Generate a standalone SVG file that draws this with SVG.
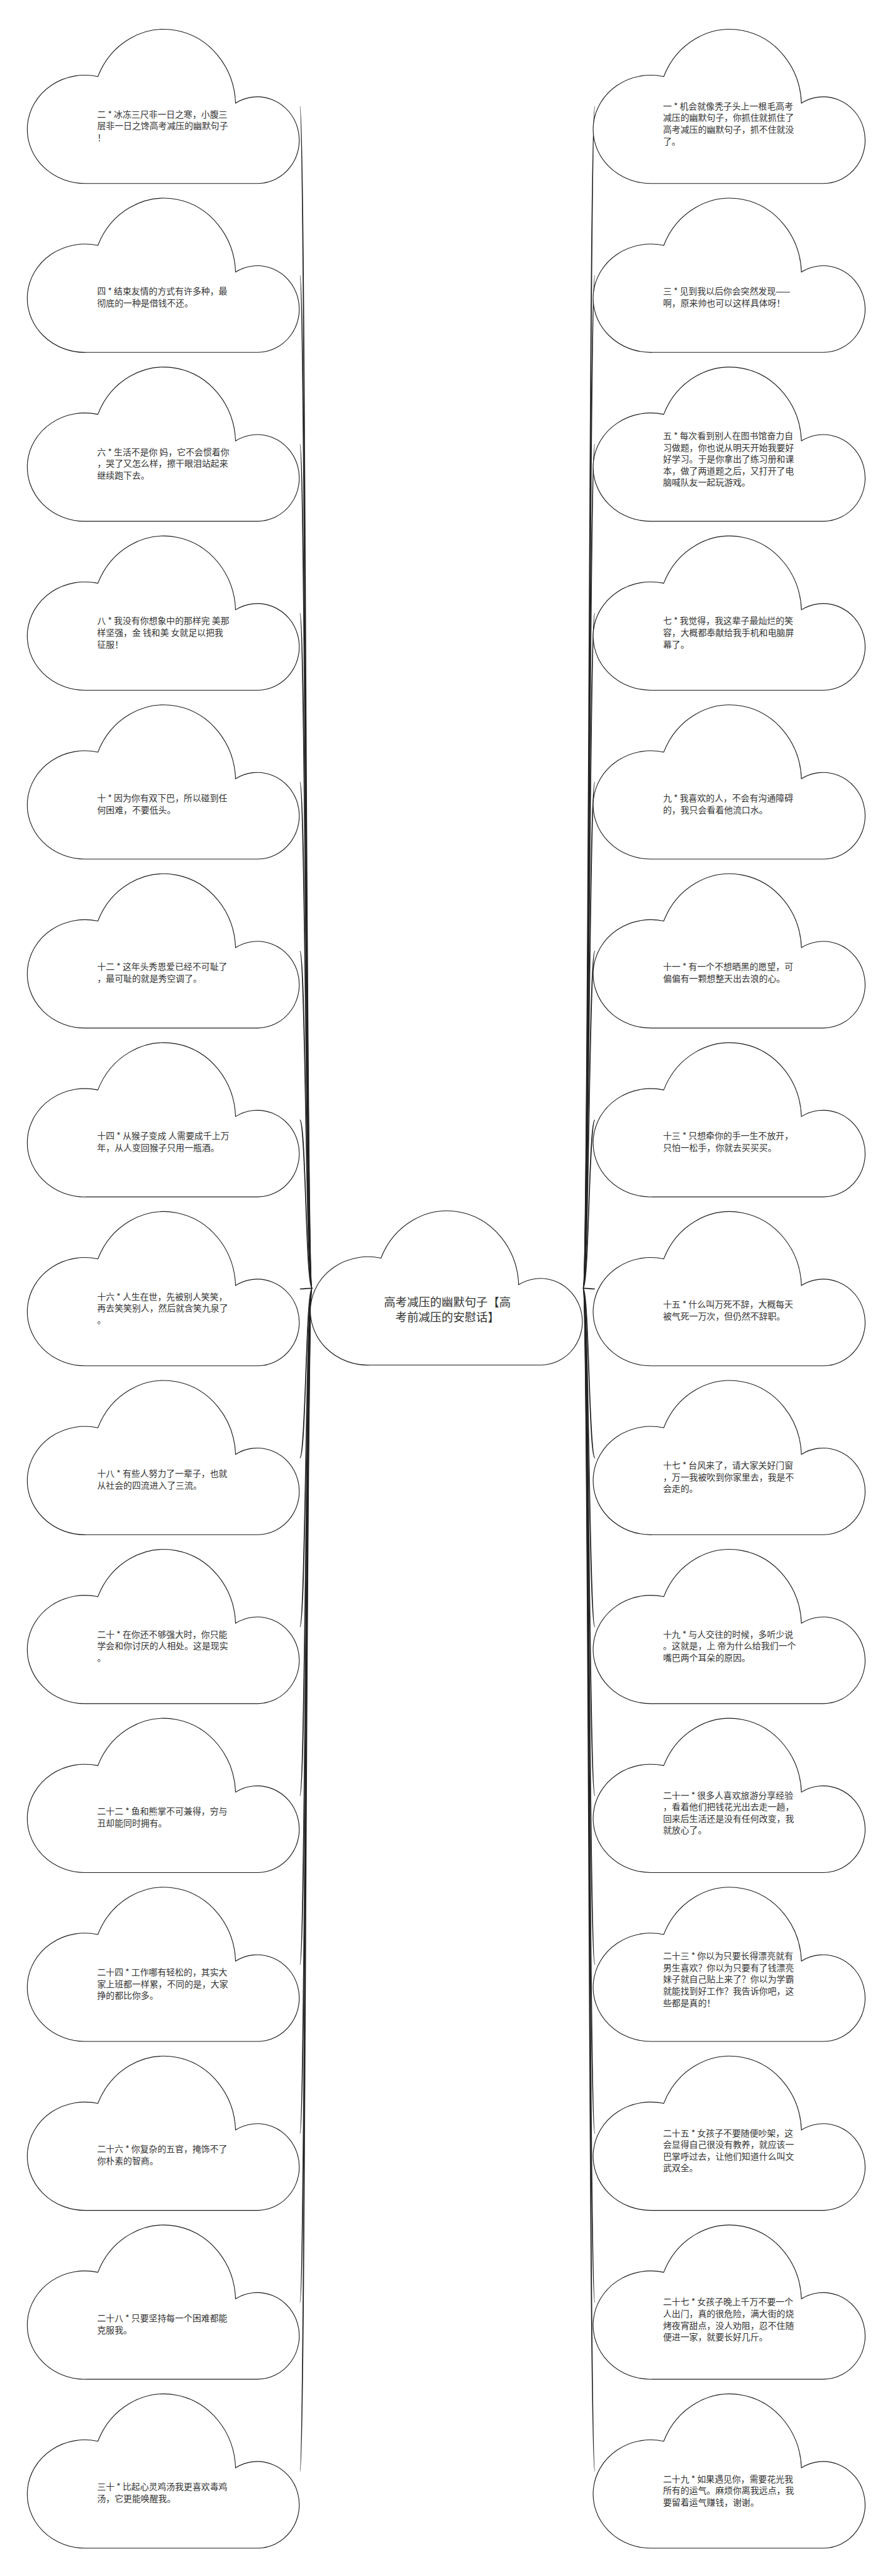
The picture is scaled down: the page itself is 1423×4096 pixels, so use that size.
<svg xmlns="http://www.w3.org/2000/svg" xmlns:xlink="http://www.w3.org/1999/xlink" width="1423" height="4096" viewBox="0 0 1423 4096">
<style>
.cloud{fill:#fff;stroke:#1a1a1a;stroke-width:2}
.t{font-family:"Noto Sans CJK SC","Noto Sans",sans-serif;font-size:25px;fill:#333}
.c{font-family:"Noto Sans CJK SC","Noto Sans",sans-serif;font-size:33px;fill:#333;text-anchor:middle}
.edge{fill:none;stroke:#222;stroke-width:3}
</style>
<defs>
<path id="cloud" class="cloud" d="M 165,440 A 165,155 0 1 1 197,134 A 205,220 0 0 1 591,210 A 120,124 0 1 1 655,440 Z"/>
</defs>
<rect width="1423" height="4096" fill="#fff"/>
<g transform="scale(0.5557)">
<g id="connectors">
<path class="edge" d="M893,3686 C875,3686 875,305 858,305"/>
<path class="edge" d="M893,3686 C875,3686 875,788.3 858,788.3"/>
<path class="edge" d="M893,3686 C875,3686 875,1271.6 858,1271.6"/>
<path class="edge" d="M893,3686 C875,3686 875,1754.9 858,1754.9"/>
<path class="edge" d="M893,3686 C875,3686 875,2238.2 858,2238.2"/>
<path class="edge" d="M893,3686 C875,3686 875,2721.5 858,2721.5"/>
<path class="edge" d="M893,3686 C875,3686 875,3204.8 858,3204.8"/>
<path class="edge" d="M893,3686 C875,3686 875,3688.1 858,3688.1"/>
<path class="edge" d="M893,3686 C875,3686 875,4171.4 858,4171.4"/>
<path class="edge" d="M893,3686 C875,3686 875,4654.7 858,4654.7"/>
<path class="edge" d="M893,3686 C875,3686 875,5138 858,5138"/>
<path class="edge" d="M893,3686 C875,3686 875,5621.3 858,5621.3"/>
<path class="edge" d="M893,3686 C875,3686 875,6104.6 858,6104.6"/>
<path class="edge" d="M893,3686 C875,3686 875,6587.9 858,6587.9"/>
<path class="edge" d="M893,3686 C875,3686 875,7071.2 858,7071.2"/>
<path class="edge" d="M1668,3686 C1685,3686 1685,305 1702,305"/>
<path class="edge" d="M1668,3686 C1685,3686 1685,788.3 1702,788.3"/>
<path class="edge" d="M1668,3686 C1685,3686 1685,1271.6 1702,1271.6"/>
<path class="edge" d="M1668,3686 C1685,3686 1685,1754.9 1702,1754.9"/>
<path class="edge" d="M1668,3686 C1685,3686 1685,2238.2 1702,2238.2"/>
<path class="edge" d="M1668,3686 C1685,3686 1685,2721.5 1702,2721.5"/>
<path class="edge" d="M1668,3686 C1685,3686 1685,3204.8 1702,3204.8"/>
<path class="edge" d="M1668,3686 C1685,3686 1685,3688.1 1702,3688.1"/>
<path class="edge" d="M1668,3686 C1685,3686 1685,4171.4 1702,4171.4"/>
<path class="edge" d="M1668,3686 C1685,3686 1685,4654.7 1702,4654.7"/>
<path class="edge" d="M1668,3686 C1685,3686 1685,5138 1702,5138"/>
<path class="edge" d="M1668,3686 C1685,3686 1685,5621.3 1702,5621.3"/>
<path class="edge" d="M1668,3686 C1685,3686 1685,6104.6 1702,6104.6"/>
<path class="edge" d="M1668,3686 C1685,3686 1685,6587.9 1702,6587.9"/>
<path class="edge" d="M1668,3686 C1685,3686 1685,7071.2 1702,7071.2"/>
</g>
<g id="center" transform="translate(893,3466)"><use xlink:href="#cloud"/><text class="c"><tspan x="387" y="272">高考减压的幽默句子【高</tspan><tspan x="387" y="315">考前减压的安慰话】</tspan></text></g>
<g id="n2" transform="translate(83,85)"><use xlink:href="#cloud"/><text class="t"><tspan x="195" y="251">二 * 冰冻三尺非一日之寒，小腹三</tspan><tspan x="195" y="284.5">层非一日之馋高考减压的幽默句子</tspan><tspan x="195" y="318">！</tspan></text></g>
<g id="n4" transform="translate(83,568.3)"><use xlink:href="#cloud"/><text class="t"><tspan x="195" y="274">四 * 结束友情的方式有许多种，最</tspan><tspan x="195" y="308">彻底的一种是借钱不还。</tspan></text></g>
<g id="n6" transform="translate(83,1051.6)"><use xlink:href="#cloud"/><text class="t"><tspan x="195" y="251">六 * 生活不是你 妈，它不会惯着你</tspan><tspan x="195" y="284.5">，哭了又怎么样，擦干眼泪站起来</tspan><tspan x="195" y="318">继续跑下去。</tspan></text></g>
<g id="n8" transform="translate(83,1534.9)"><use xlink:href="#cloud"/><text class="t"><tspan x="195" y="251">八 * 我没有你想象中的那样完 美那</tspan><tspan x="195" y="284.5">样坚强，金 钱和美 女就足以把我</tspan><tspan x="195" y="318">征服！</tspan></text></g>
<g id="n10" transform="translate(83,2018.2)"><use xlink:href="#cloud"/><text class="t"><tspan x="195" y="274">十 * 因为你有双下巴，所以碰到任</tspan><tspan x="195" y="308">何困难，不要低头。</tspan></text></g>
<g id="n12" transform="translate(83,2501.5)"><use xlink:href="#cloud"/><text class="t"><tspan x="195" y="274">十二 * 这年头秀恩爱已经不可耻了</tspan><tspan x="195" y="308">，最可耻的就是秀空调了。</tspan></text></g>
<g id="n14" transform="translate(83,2984.8)"><use xlink:href="#cloud"/><text class="t"><tspan x="195" y="274">十四 * 从猴子变成 人需要成千上万</tspan><tspan x="195" y="308">年，从人变回猴子只用一瓶酒。</tspan></text></g>
<g id="n16" transform="translate(83,3468.1)"><use xlink:href="#cloud"/><text class="t"><tspan x="195" y="251">十六 * 人生在世，先被别人笑笑，</tspan><tspan x="195" y="284.5">再去笑笑别人，然后就含笑九泉了</tspan><tspan x="195" y="318">。</tspan></text></g>
<g id="n18" transform="translate(83,3951.4)"><use xlink:href="#cloud"/><text class="t"><tspan x="195" y="274">十八 * 有些人努力了一辈子，也就</tspan><tspan x="195" y="308">从社会的四流进入了三流。</tspan></text></g>
<g id="n20" transform="translate(83,4434.7)"><use xlink:href="#cloud"/><text class="t"><tspan x="195" y="251">二十 * 在你还不够强大时，你只能</tspan><tspan x="195" y="284.5">学会和你讨厌的人相处。这是现实</tspan><tspan x="195" y="318">。</tspan></text></g>
<g id="n22" transform="translate(83,4918)"><use xlink:href="#cloud"/><text class="t"><tspan x="195" y="274">二十二 * 鱼和熊掌不可兼得，穷与</tspan><tspan x="195" y="308">丑却能同时拥有。</tspan></text></g>
<g id="n24" transform="translate(83,5401.3)"><use xlink:href="#cloud"/><text class="t"><tspan x="195" y="251">二十四 * 工作哪有轻松的，其实大</tspan><tspan x="195" y="284.5">家上班都一样累，不同的是，大家</tspan><tspan x="195" y="318">挣的都比你多。</tspan></text></g>
<g id="n26" transform="translate(83,5884.6)"><use xlink:href="#cloud"/><text class="t"><tspan x="195" y="274">二十六 * 你复杂的五官，掩饰不了</tspan><tspan x="195" y="308">你朴素的智商。</tspan></text></g>
<g id="n28" transform="translate(83,6367.9)"><use xlink:href="#cloud"/><text class="t"><tspan x="195" y="274">二十八 * 只要坚持每一个困难都能</tspan><tspan x="195" y="308">克服我。</tspan></text></g>
<g id="n30" transform="translate(83,6851.2)"><use xlink:href="#cloud"/><text class="t"><tspan x="195" y="274">三十 * 比起心灵鸡汤我更喜欢毒鸡</tspan><tspan x="195" y="308">汤，它更能唤醒我。</tspan></text></g>
<g id="n1" transform="translate(1702,85)"><use xlink:href="#cloud"/><text class="t"><tspan x="195" y="228">一 * 机会就像秃子头上一根毛高考</tspan><tspan x="195" y="261">减压的幽默句子，你抓住就抓住了</tspan><tspan x="195" y="295">高考减压的幽默句子，抓不住就没</tspan><tspan x="195" y="328">了。</tspan></text></g>
<g id="n3" transform="translate(1702,568.3)"><use xlink:href="#cloud"/><text class="t"><tspan x="195" y="274">三 * 见到我以后你会突然发现——</tspan><tspan x="195" y="308">啊，原来帅也可以这样具体呀！</tspan></text></g>
<g id="n5" transform="translate(1702,1051.6)"><use xlink:href="#cloud"/><text class="t"><tspan x="195" y="204.5">五 * 每次看到别人在图书馆奋力自</tspan><tspan x="195" y="238">习做题，你也说从明天开始我要好</tspan><tspan x="195" y="271.5">好学习。于是你拿出了练习册和课</tspan><tspan x="195" y="305">本，做了两道题之后，又打开了电</tspan><tspan x="195" y="338.5">脑喊队友一起玩游戏。</tspan></text></g>
<g id="n7" transform="translate(1702,1534.9)"><use xlink:href="#cloud"/><text class="t"><tspan x="195" y="251">七 * 我觉得，我这辈子最灿烂的笑</tspan><tspan x="195" y="284.5">容，大概都奉献给我手机和电脑屏</tspan><tspan x="195" y="318">幕了。</tspan></text></g>
<g id="n9" transform="translate(1702,2018.2)"><use xlink:href="#cloud"/><text class="t"><tspan x="195" y="274">九 * 我喜欢的人，不会有沟通障碍</tspan><tspan x="195" y="308">的，我只会看着他流口水。</tspan></text></g>
<g id="n11" transform="translate(1702,2501.5)"><use xlink:href="#cloud"/><text class="t"><tspan x="195" y="274">十一 * 有一个不想晒黑的愿望，可</tspan><tspan x="195" y="308">偏偏有一颗想整天出去浪的心。</tspan></text></g>
<g id="n13" transform="translate(1702,2984.8)"><use xlink:href="#cloud"/><text class="t"><tspan x="195" y="274">十三 * 只想牵你的手一生不放开，</tspan><tspan x="195" y="308">只怕一松手，你就去买买买。</tspan></text></g>
<g id="n15" transform="translate(1702,3468.1)"><use xlink:href="#cloud"/><text class="t"><tspan x="195" y="274">十五 * 什么叫万死不辞，大概每天</tspan><tspan x="195" y="308">被气死一万次，但仍然不辞职。</tspan></text></g>
<g id="n17" transform="translate(1702,3951.4)"><use xlink:href="#cloud"/><text class="t"><tspan x="195" y="251">十七 * 台风来了，请大家关好门窗</tspan><tspan x="195" y="284.5">，万一我被吹到你家里去，我是不</tspan><tspan x="195" y="318">会走的。</tspan></text></g>
<g id="n19" transform="translate(1702,4434.7)"><use xlink:href="#cloud"/><text class="t"><tspan x="195" y="251">十九 * 与人交往的时候，多听少说</tspan><tspan x="195" y="284.5">。这就是，上 帝为什么给我们一个</tspan><tspan x="195" y="318">嘴巴两个耳朵的原因。</tspan></text></g>
<g id="n21" transform="translate(1702,4918)"><use xlink:href="#cloud"/><text class="t"><tspan x="195" y="228">二十一 * 很多人喜欢旅游分享经验</tspan><tspan x="195" y="261">，看着他们把钱花光出去走一趟，</tspan><tspan x="195" y="295">回来后生活还是没有任何改变，我</tspan><tspan x="195" y="328">就放心了。</tspan></text></g>
<g id="n23" transform="translate(1702,5401.3)"><use xlink:href="#cloud"/><text class="t"><tspan x="195" y="204.5">二十三 * 你以为只要长得漂亮就有</tspan><tspan x="195" y="238">男生喜欢？你以为只要有了钱漂亮</tspan><tspan x="195" y="271.5">妹子就自己贴上来了？你以为学霸</tspan><tspan x="195" y="305">就能找到好工作？我告诉你吧，这</tspan><tspan x="195" y="338.5">些都是真的！</tspan></text></g>
<g id="n25" transform="translate(1702,5884.6)"><use xlink:href="#cloud"/><text class="t"><tspan x="195" y="228">二十五 * 女孩子不要随便吵架，这</tspan><tspan x="195" y="261">会显得自己很没有教养，就应该一</tspan><tspan x="195" y="295">巴掌呼过去，让他们知道什么叫文</tspan><tspan x="195" y="328">武双全。</tspan></text></g>
<g id="n27" transform="translate(1702,6367.9)"><use xlink:href="#cloud"/><text class="t"><tspan x="195" y="228">二十七 * 女孩子晚上千万不要一个</tspan><tspan x="195" y="261">人出门，真的很危险，满大街的烧</tspan><tspan x="195" y="295">烤夜宵甜点，没人劝阻，忍不住随</tspan><tspan x="195" y="328">便进一家，就要长好几斤。</tspan></text></g>
<g id="n29" transform="translate(1702,6851.2)"><use xlink:href="#cloud"/><text class="t"><tspan x="195" y="251">二十九 * 如果遇见你，需要花光我</tspan><tspan x="195" y="284.5">所有的运气。麻烦你离我远点，我</tspan><tspan x="195" y="318">要留着运气赚钱，谢谢。</tspan></text></g>
</g>
</svg>
